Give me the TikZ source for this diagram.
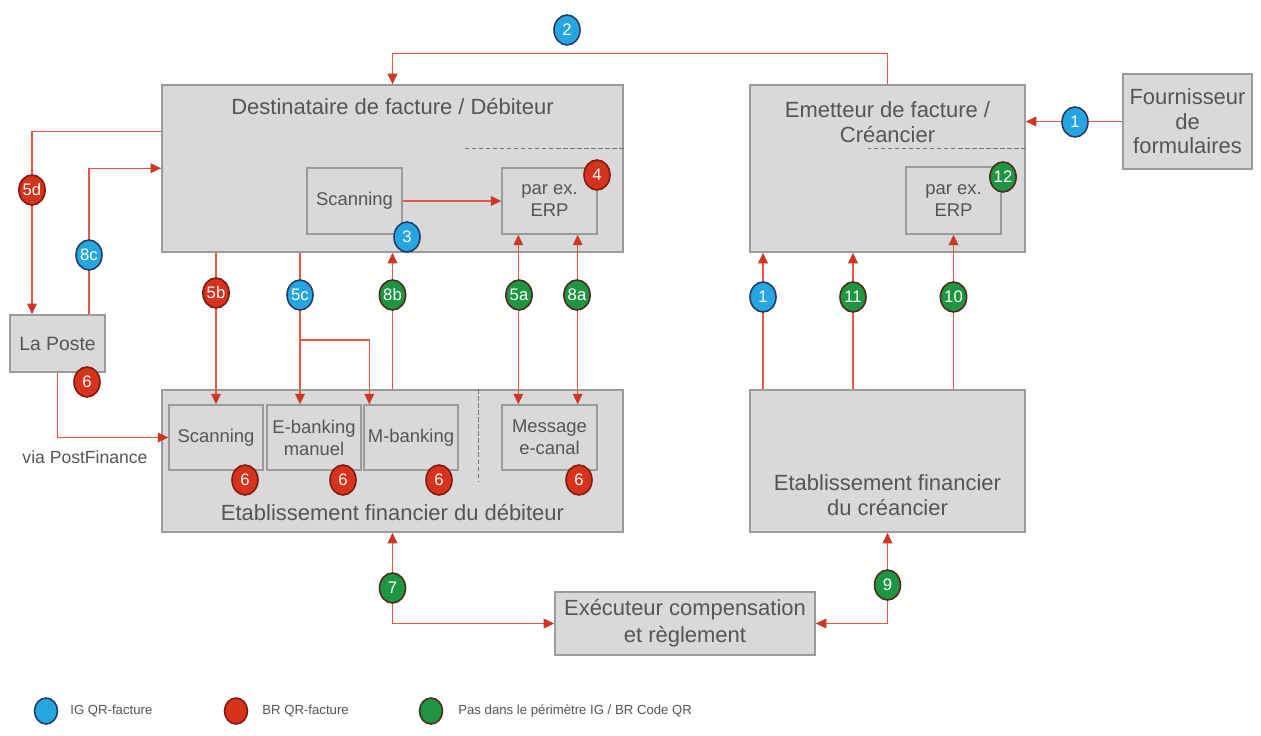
\documentclass[tikz,border=0pt]{standalone}
\usepackage{fontspec}
\setmainfont{Liberation Sans}
\usetikzlibrary{arrows.meta,positioning,shapes.geometric}
\definecolor{boxfill}{RGB}{217,217,217}
\definecolor{boxline}{RGB}{155,155,155}
\definecolor{txtgray}{RGB}{85,85,85}
\definecolor{flowline}{RGB}{226,88,66}
\definecolor{flowtip}{RGB}{205,55,35}
\definecolor{igblue}{RGB}{38,166,225}
\definecolor{igborder}{RGB}{35,60,105}
\definecolor{brred}{RGB}{214,50,28}
\definecolor{brborder}{RGB}{125,28,15}
\definecolor{okgreen}{RGB}{30,150,65}
\definecolor{okborder}{RGB}{75,45,25}
\pgfdeclarelayer{front}
\pgfsetlayers{main,front}
\tikzset{
  block/.style={draw=boxline,fill=boxfill,line width=0.9pt,inner sep=0pt,text=txtgray,align=center,font=\fontsize{12.5}{14}\selectfont},
  inner/.style={draw=boxline,fill=boxfill,line width=0.8pt,inner sep=1pt,text=txtgray,align=center,font=\fontsize{10.5}{12.5}\selectfont},
  title/.style={text=txtgray,align=center,inner sep=0pt,font=\fontsize{12.5}{14}\selectfont},
  badge/.style={ellipse,draw,line width=0.9pt,minimum width=0.52cm,minimum height=0.6cm,inner sep=0pt,text=white,font=\fontsize{9.5}{10}\selectfont},
  ig/.style={badge,fill=igblue,draw=igborder},
  br/.style={badge,fill=brred,draw=brborder},
  ok/.style={badge,fill=okgreen,draw=okborder},
  keydot/.style={minimum width=0.46cm,minimum height=0.52cm},
  flow/.style={draw=flowline,line width=0.75pt,>={Triangle[length=6pt,width=5.5pt,color=flowtip]}},
  sep/.style={draw=black!55,line width=0.6pt,dash pattern=on 2.5pt off 1.5pt},
  keytext/.style={text=txtgray,anchor=west,inner sep=0pt,font=\fontsize{7.5}{9}\selectfont},
}
\begin{document}
\begin{tikzpicture}[x=0.02cm,y=-0.02cm]
\path[use as bounding box,fill=white] (0,0) rectangle (1261,736);
% participants
\node (debt) [block,minimum width=9.22cm,minimum height=3.34cm] at (392.5,168.5) {};
\node (debtt) [title] at (392.5,107) {Destinataire de facture / Débiteur};
\node (dscan) [inner,minimum width=1.9cm,minimum height=1.32cm] at (354.5,201) {Scanning};
\node (derp) [inner,minimum width=1.9cm,minimum height=1.32cm] at (549.5,201) {par ex.\\ERP};
\node (cred) [block,minimum width=5.5cm,minimum height=3.34cm] at (887.5,168.5) {};
\node (credt) [title] at (887.5,122) {Emetteur de facture /\\Créancier};
\node (cerp) [inner,minimum width=1.9cm,minimum height=1.34cm] at (953.5,200.5) {par ex.\\ERP};
\node (fourn) [block,minimum width=2.58cm,minimum height=1.9cm] at (1187.5,121.5) {Fournisseur\\de\\formulaires};
\node (poste) [block,minimum width=1.9cm,minimum height=1.14cm,font=\fontsize{11}{13}\selectfont] at (57.5,343.5) {La Poste};
\node (dbank) [block,minimum width=9.22cm,minimum height=2.84cm] at (392.5,461) {};
\node (dbankt) [title] at (392.5,513) {Etablissement financier du débiteur};
\node (bscan) [inner,minimum width=1.88cm,minimum height=1.3cm] at (216,437.5) {Scanning};
\node (bebank) [inner,minimum width=1.88cm,minimum height=1.3cm] at (314,437.5) {E-banking\\manuel};
\node (bmbank) [inner,minimum width=1.88cm,minimum height=1.3cm] at (411,437.5) {M-banking};
\node (bmsg) [inner,minimum width=1.9cm,minimum height=1.3cm] at (549.5,437.5) {Message\\e-canal};
\node (cbank) [block,minimum width=5.5cm,minimum height=2.84cm] at (887.5,461) {};
\node (cbankt) [title] at (887.5,495) {Etablissement financier\\du créancier};
\node (exec) [block,minimum width=5.2cm,minimum height=1.26cm,font=\fontsize{12.5}{15.5}\selectfont] at (685,623.5) {Exécuteur compensation\\et règlement};
\node (via) [text=txtgray,inner sep=0pt,font=\fontsize{10}{12}\selectfont] at (85,457) {via PostFinance};
%
\draw[sep] ([yshift=-1.28cm]debt.north east) -- ++(-159,0);
\draw[sep] ([yshift=-1.28cm]cred.north east) -- ++(-158,0);
\draw[sep] ([xshift=-2.9cm]dbank.north east) -- ++(0,93);
% numbered markers
\begin{pgfonlayer}{front}
\node (n2) [ig] at (567,30) {2};
\node (n1a) [ig] at (1075,122) {1};
\node (n3) [ig] at (407,237) {3};
\node (n4) [br] at (597,175) {4};
\node (n12) [ok] at (1003,177) {12};
\node (n5d) [br] at (32,190) {5d};
\node (n8c) [ig] at (89,255) {8c};
\node (n6p) [br] at (87,382) {6};
\node (n5b) [br] at (216,293) {5b};
\node (n5c) [ig] at (300,295) {5c};
\node (n8b) [ok] at (392.5,295) {8b};
\node (n5a) [ok] at (519,295) {5a};
\node (n8a) [ok] at (577,295) {8a};
\node (n1b) [ig] at (763,297) {1};
\node (n11) [ok] at (853,297) {11};
\node (n10) [ok] at (953.5,297) {10};
\node (n6a) [br] at (245,480) {6};
\node (n6b) [br] at (343,480) {6};
\node (n6c) [br] at (439,480) {6};
\node (n6d) [br] at (579,480) {6};
\node (n7) [ok] at (392.5,588) {7};
\node (n9) [ok] at (887.5,585) {9};
\end{pgfonlayer}
% flows
\path[flow,->] (cred.north) -- ++(0,-31) -| (debt.north);
\path[flow,->] (fourn.west) -- (cred.east |- fourn.west);
\path[flow,->] (dscan) -- (derp);
\path[flow,->] ([yshift=-0.94cm]debt.north west) -| (poste.north -| n5d);
\path[flow,->] (poste.north -| n8c) |- ([yshift=-1.68cm]debt.north west);
\path[flow,->] (poste.south) |- (bscan.west);
\path[flow,->] (debt.south -| bscan.north) -- (bscan.north);
\path[flow,->] (debt.south -| n5c) -- (bebank.north -| n5c);
\coordinate (split) at (300,340);
\path[flow,->] (split) -| ([xshift=0.12cm]bmbank.north west);
\path[flow,->] (dbank.north) -- (debt.south);
\path[flow,<->] ([xshift=0.34cm]derp.south west) -- ([xshift=0.34cm]bmsg.north west);
\path[flow,<->] ([xshift=-0.4cm]derp.south east) -- ([xshift=-0.4cm]bmsg.north east);
\path[flow,->] (cbank.north -| n1b) -- (cred.south -| n1b);
\path[flow,->] (cbank.north -| n11) -- (cred.south -| n11);
\path[flow,->] (cbank.north -| cerp.south) -- (cerp.south);
\path[flow,<->] (dbank.south) |- (exec.west);
\path[flow,<->] (cbank.south) |- (exec.east);
% legend
\node (k1) [ig,keydot] at (46,711) {};
\node (k1t) [keytext] at (70,711) {IG QR-facture};
\node (k2) [br,keydot] at (236,711) {};
\node (k2t) [keytext] at (262,711) {BR QR-facture};
\node (k3) [ok,keydot] at (431,711) {};
\node (k3t) [keytext] at (458,711) {Pas dans le périmètre IG / BR Code QR};
\end{tikzpicture}
\end{document}
